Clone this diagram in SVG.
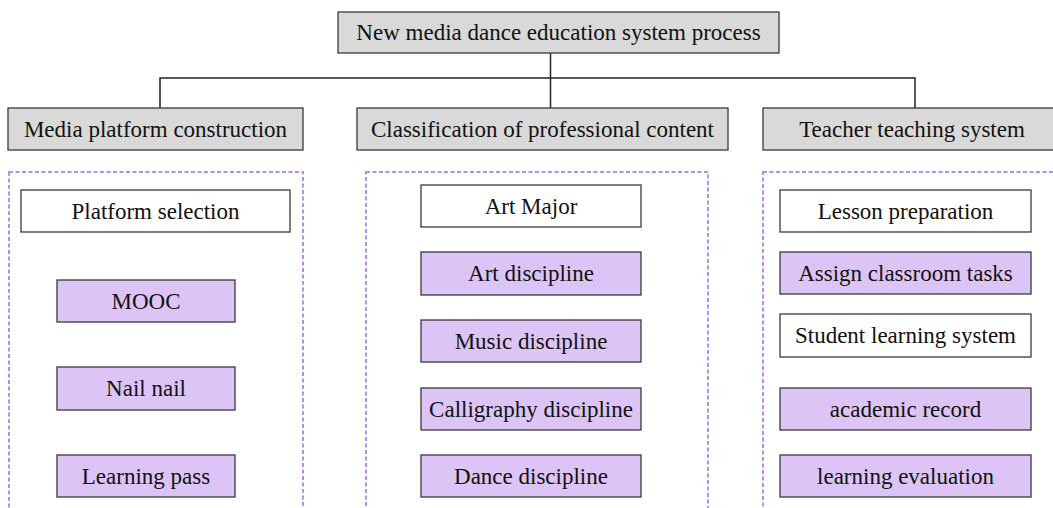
<svg xmlns="http://www.w3.org/2000/svg" width="1053" height="508" viewBox="0 0 1053 508">
<style>
text{font-family:"Liberation Serif","Times New Roman",serif;font-size:23px;fill:#111;text-anchor:middle;dominant-baseline:central}
.g{fill:#d9d9d9;stroke:#3a3a3a;stroke-width:1.3}
.w{fill:#fff;stroke:#3a3a3a;stroke-width:1.3}
.p{fill:#dcc5f6;stroke:#3a3a3a;stroke-width:1.3}
.d{fill:none;stroke:#b58ef0;stroke-width:2;stroke-dasharray:4 2.5}
.c{fill:none;stroke:#222;stroke-width:1.5}
</style>
<rect width="1053" height="508" fill="#fff"/>
<g id="connectors">
<path class="c" d="M550.5 53V108M160 108V78H915V108"/>
</g>
<g id="root"><rect class="g" x="338" y="12" width="441" height="41"/><text x="558.5" y="32.5">New media dance education system process</text></g>
<g id="media-platform"><rect class="g" x="8" y="108" width="295" height="42"/><text x="155.5" y="129">Media platform construction</text></g>
<g id="classification"><rect class="g" x="357" y="108" width="371" height="42"/><text x="542.5" y="129">Classification of professional content</text></g>
<g id="teacher"><rect class="g" x="763" y="108" width="300" height="42"/><text x="912" y="129">Teacher teaching system</text></g>
<g id="group-left"><rect class="d" x="9" y="172" width="294" height="345"/></g>
<g id="group-mid"><rect class="d" x="366" y="172" width="342" height="345"/></g>
<g id="group-right"><rect class="d" x="763" y="172" width="300" height="345"/></g>
<g id="platform-selection"><rect class="w" x="21" y="190" width="269" height="42"/><text x="155.5" y="211">Platform selection</text></g>
<g id="mooc"><rect class="p" x="57" y="280" width="178" height="42"/><text x="146" y="301">MOOC</text></g>
<g id="nail-nail"><rect class="p" x="57" y="367" width="178" height="43"/><text x="146" y="388.5">Nail nail</text></g>
<g id="learning-pass"><rect class="p" x="57" y="455" width="178" height="42"/><text x="146" y="476">Learning pass</text></g>
<g id="art-major"><rect class="w" x="421" y="185" width="220" height="42"/><text x="531" y="206">Art Major</text></g>
<g id="art-discipline"><rect class="p" x="421" y="252" width="220" height="43"/><text x="531" y="273.5">Art discipline</text></g>
<g id="music-discipline"><rect class="p" x="421" y="320" width="220" height="42"/><text x="531" y="341">Music discipline</text></g>
<g id="calligraphy-discipline"><rect class="p" x="421" y="388" width="220" height="42"/><text x="531" y="409">Calligraphy discipline</text></g>
<g id="dance-discipline"><rect class="p" x="421" y="455" width="220" height="42"/><text x="531" y="476">Dance discipline</text></g>
<g id="lesson-preparation"><rect class="w" x="780" y="190" width="251" height="42"/><text x="905.5" y="211">Lesson preparation</text></g>
<g id="assign-tasks"><rect class="p" x="780" y="252" width="251" height="42"/><text x="905.5" y="273">Assign classroom tasks</text></g>
<g id="student-learning"><rect class="w" x="780" y="314" width="251" height="43"/><text x="905.5" y="335.5">Student learning system</text></g>
<g id="academic-record"><rect class="p" x="780" y="388" width="251" height="42"/><text x="905.5" y="409">academic record</text></g>
<g id="learning-evaluation"><rect class="p" x="780" y="455" width="251" height="42"/><text x="905.5" y="476">learning evaluation</text></g>
</svg>
